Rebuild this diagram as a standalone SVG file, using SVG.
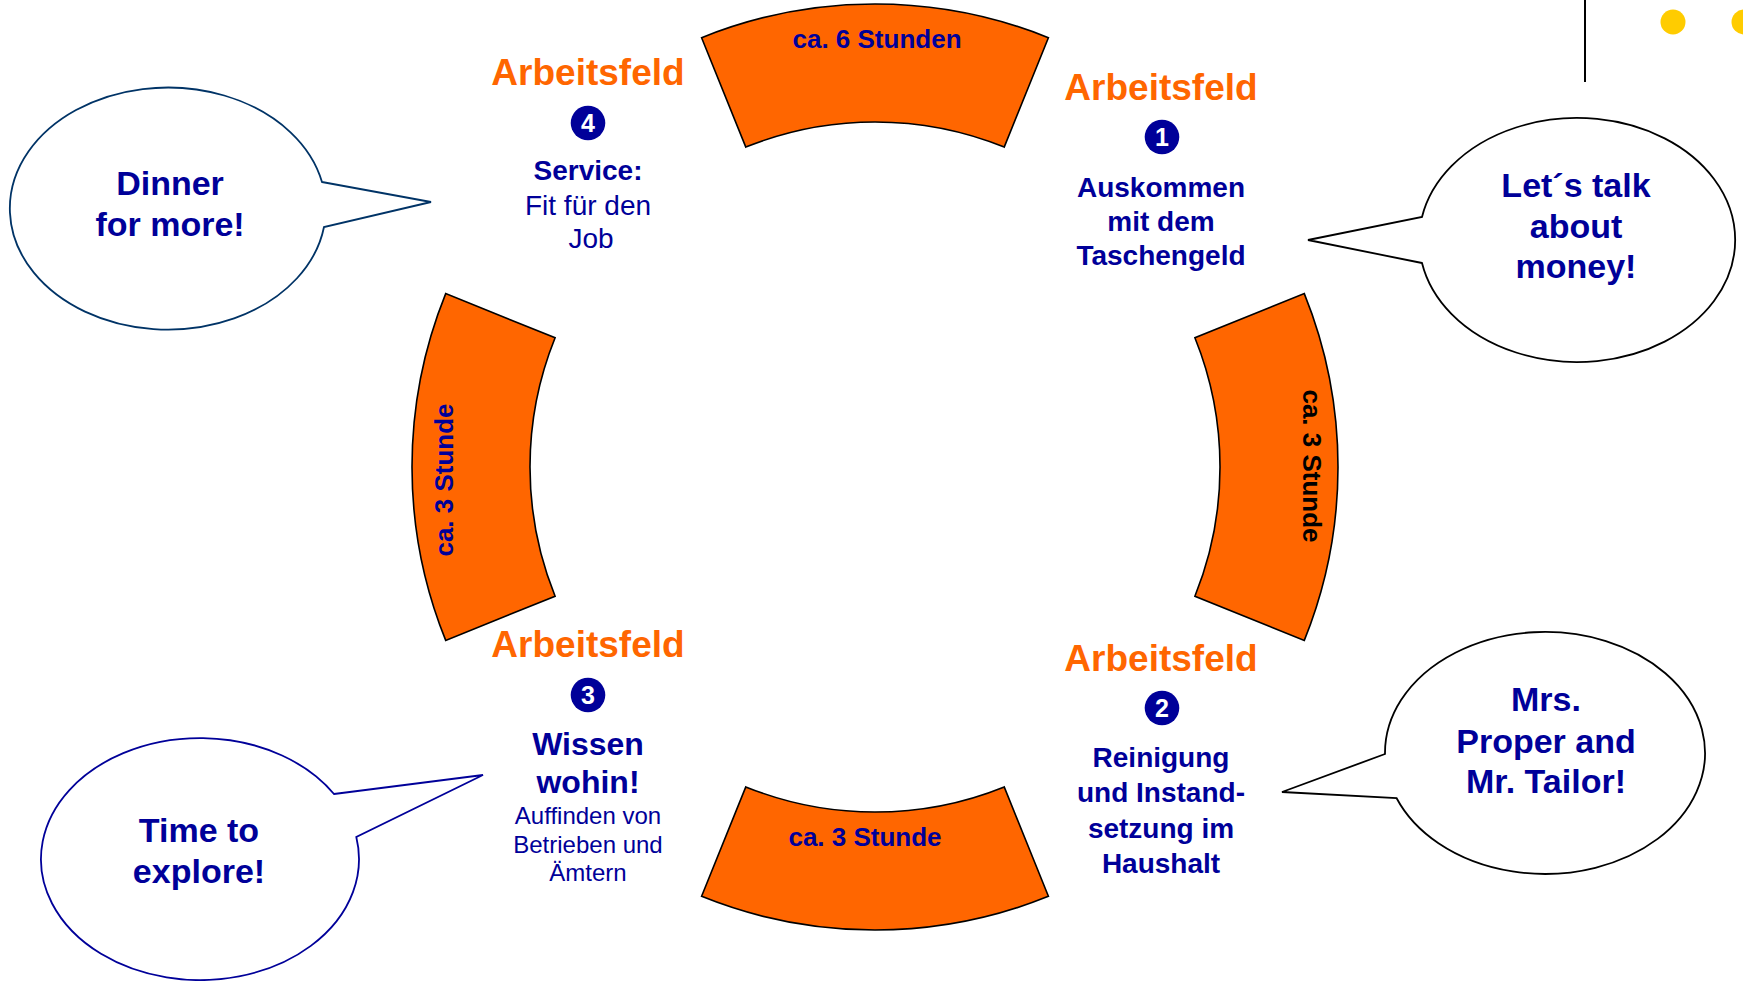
<svg xmlns="http://www.w3.org/2000/svg" width="1743" height="981" viewBox="0 0 1743 981">
<style>
text{font-family:"Liberation Sans",Arial,sans-serif;text-anchor:middle}
.seg{fill:#FF6600;stroke:#000;stroke-width:1.6}
.seglbl{font-size:26px;font-weight:bold;fill:#000099}
.af{font-size:37px;font-weight:bold;fill:#FF6600}
.num{fill:#000099}
.numt{font-size:25px;font-weight:bold;fill:#fff}
.b28{font-size:28px;font-weight:bold;fill:#000099}
.r28{font-size:28px;fill:#000099}
.b32{font-size:32px;font-weight:bold;fill:#000099}
.r24{font-size:24px;fill:#000099}
.bub{fill:#fff;stroke-width:1.8}
.bt{font-size:34px;font-weight:bold;fill:#000099}
</style>
<rect width="1743" height="981" fill="#fff"/>

<g id="deco">
<line x1="1585" y1="0" x2="1585" y2="82" stroke="#000" stroke-width="2"/>
<circle cx="1673" cy="22" r="12.5" fill="#FFCC00"/>
<circle cx="1744" cy="22" r="12.5" fill="#FFCC00"/>
</g>

<g id="seg-top">
<path class="seg" d="M701.6 37.7 A463 463 0 0 1 1048.4 37.7 L1004.2 147.1 A345 345 0 0 0 745.8 147.1 Z"/>
<text class="seglbl" x="877" y="48">ca. 6 Stunden</text>
</g>
<g id="seg-right">
<path class="seg" d="M1304.3 293.6 A463 463 0 0 1 1304.3 640.4 L1194.9 596.2 A345 345 0 0 0 1194.9 337.8 Z"/>
<text class="seglbl" style="fill:#000" transform="translate(1303,466) rotate(90)">ca. 3 Stunde</text>
</g>
<g id="seg-bottom">
<path class="seg" d="M1048.4 896.3 A463 463 0 0 1 701.6 896.3 L745.8 786.9 A345 345 0 0 0 1004.2 786.9 Z"/>
<text class="seglbl" x="865" y="846">ca. 3 Stunde</text>
</g>
<g id="seg-left">
<path class="seg" d="M445.7 640.4 A463 463 0 0 1 445.7 293.6 L555.1 337.8 A345 345 0 0 0 555.1 596.2 Z"/>
<text class="seglbl" transform="translate(453,480) rotate(-90)">ca. 3 Stunde</text>
</g>

<g id="field-1">
<text class="af" x="1161" y="100">Arbeitsfeld</text>
<circle class="num" cx="1162" cy="137" r="17.3"/>
<text class="numt" x="1162" y="146">1</text>
<text class="b28" x="1161" y="197">Auskommen</text>
<text class="b28" x="1161" y="231">mit dem</text>
<text class="b28" x="1161" y="265">Taschengeld</text>
</g>
<g id="field-2">
<text class="af" x="1161" y="671">Arbeitsfeld</text>
<circle class="num" cx="1162" cy="708" r="17.3"/>
<text class="numt" x="1162" y="717">2</text>
<text class="b28" x="1161" y="767">Reinigung</text>
<text class="b28" x="1161" y="802">und Instand-</text>
<text class="b28" x="1161" y="838">setzung im</text>
<text class="b28" x="1161" y="873">Haushalt</text>
</g>
<g id="field-3">
<text class="af" x="588" y="657">Arbeitsfeld</text>
<circle class="num" cx="588" cy="695" r="17.3"/>
<text class="numt" x="588" y="704">3</text>
<text class="b32" x="588" y="755">Wissen</text>
<text class="b32" x="588" y="793">wohin!</text>
<text class="r24" x="588" y="824">Auffinden von</text>
<text class="r24" x="588" y="853">Betrieben und</text>
<text class="r24" x="588" y="881">Ämtern</text>
</g>
<g id="field-4">
<text class="af" x="588" y="85">Arbeitsfeld</text>
<circle class="num" cx="588" cy="123" r="17.3"/>
<text class="numt" x="588" y="132">4</text>
<text class="b28" x="588" y="180">Service:</text>
<text class="r28" x="588" y="215">Fit für den</text>
<text class="r28" x="591" y="248">Job</text>
</g>

<g id="bubble-dinner">
<path class="bub" stroke="#003366" d="M322 182 L431 202 L324 227 A158 121 0 1 1 322 182 Z"/>
<text class="bt" x="170" y="195">Dinner</text>
<text class="bt" x="170" y="236">for more!</text>
</g>
<g id="bubble-money">
<path class="bub" stroke="#000" d="M1422 263 L1308 240 L1422 217 A158 122 0 1 1 1422 263 Z"/>
<text class="bt" x="1576" y="197">Let´s talk</text>
<text class="bt" x="1576" y="238">about</text>
<text class="bt" x="1576" y="278">money!</text>
</g>
<g id="bubble-proper">
<path class="bub" stroke="#000" d="M1385 754 L1282 792 L1396.5 798 A160 121 0 1 0 1385 754 Z"/>
<text class="bt" x="1546" y="711">Mrs.</text>
<text class="bt" x="1546" y="753">Proper and</text>
<text class="bt" x="1546" y="793">Mr. Tailor!</text>
</g>
<g id="bubble-explore">
<path class="bub" stroke="#000099" d="M334 794 L483 775 L356.3 837 A159 121 0 1 1 334 794 Z"/>
<text class="bt" x="199" y="842">Time to</text>
<text class="bt" x="199" y="883">explore!</text>
</g>
</svg>
